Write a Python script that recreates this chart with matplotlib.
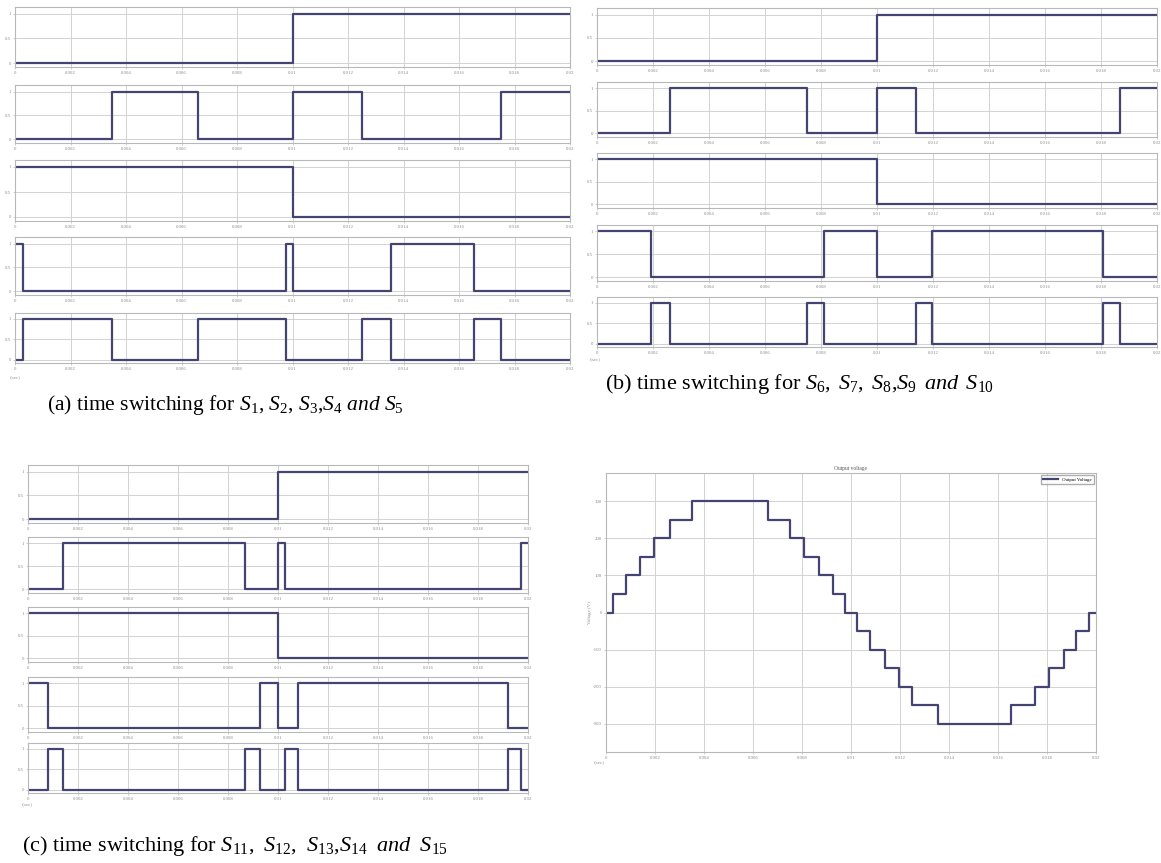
import matplotlib.pyplot as plt

plt.rcParams['font.family'] = ['Liberation Serif', 'DejaVu Serif']
plt.rcParams['mathtext.fontset'] = 'custom'
plt.rcParams['mathtext.rm'] = 'Liberation Serif'
plt.rcParams['mathtext.it'] = 'Liberation Serif:italic'

W, H = 1161, 863
T_END = 0.02

# gate signals: initial state and switching instants (s)
s1_start, s1_edges = 0, [0.01]
s2_start, s2_edges = 0, [0.0035, 0.0066, 0.01, 0.0125, 0.0175]
s3_start, s3_edges = 1, [0.01]
s4_start, s4_edges = 1, [0.0003, 0.00976, 0.01, 0.01354, 0.01654]
s5_start, s5_edges = 0, [0.0003, 0.0035, 0.0066, 0.00976, 0.0125, 0.01354, 0.01654, 0.0175]

s6_start, s6_edges = 0, [0.01]
s7_start, s7_edges = 0, [0.0026, 0.0075, 0.01, 0.0114, 0.01868]
s8_start, s8_edges = 1, [0.01]
s9_start, s9_edges = 1, [0.00194, 0.0081, 0.01, 0.01196, 0.01808]
s10_start, s10_edges = 0, [0.00194, 0.0026, 0.0075, 0.0081, 0.0114, 0.01196, 0.01808, 0.01868]

s11_start, s11_edges = 0, [0.01]
s12_start, s12_edges = 0, [0.0014, 0.0087, 0.01, 0.01026, 0.0197]
s13_start, s13_edges = 1, [0.01]
s14_start, s14_edges = 1, [0.0008, 0.00926, 0.01, 0.01078, 0.0192]
s15_start, s15_edges = 0, [0.0008, 0.0014, 0.0087, 0.00926, 0.01026, 0.01078, 0.0192, 0.0197]

# inverter output voltage: step instants (s) and level (V) after each one
vout_t = [0, 0.0003, 0.0008, 0.0014, 0.00194, 0.0026, 0.0035, 0.0066, 0.0075, 0.0081,
          0.0087, 0.00926, 0.00976, 0.01026, 0.01078, 0.0114, 0.01196, 0.0125, 0.01354,
          0.01654, 0.0175, 0.01808, 0.01868, 0.0192, 0.0197, 0.02]
vout_v = [0, 50, 100, 150, 200, 250, 300, 250, 200, 150,
          100, 50, 0, -50, -100, -150, -200, -250, -300,
          -250, -200, -150, -100, -50, 0, 0]

time_ticks = [0.002 * i for i in range(11)]
time_labels = ['0'] + ['%g' % round(0.002 * i, 3) for i in range(1, 11)]
gate_ticks = [0, 0.5, 1]
gate_labels = ['0', '0.5', '1']
volt_ticks = [-300, -200, -100, 0, 100, 200, 300]
volt_labels = ['-300', '-200', '-100', '0', '100', '200', '300']

LINE = '#444472'
GRID = '#d2d2d2'
TICK = '#8c8c8c'


def gate_wave(start, edges):
    t = [0.0] + list(edges) + [T_END]
    v = [(start + i) % 2 for i in range(len(edges) + 1)]
    v.append(v[-1])
    return t, v


def axes_px(fig, left, top, right, bottom):
    return fig.add_axes([left / W, 1 - bottom / H, (right - left) / W, (bottom - top) / H])


def scope_style(ax):
    ax.set_xlim(0, T_END)
    ax.set_xticks(time_ticks)
    ax.set_xticklabels(time_labels)
    ax.grid(True, color=GRID, lw=0.7)
    ax.set_axisbelow(True)
    ax.tick_params(labelsize=3.5, labelcolor=TICK, length=1.5, width=0.4,
                   color='#aaaaaa', pad=1.5)
    for sp in ax.spines.values():
        sp.set_color('#b8b8b8')
        sp.set_linewidth(0.8)


def gate_panel(fig, left, right, rows, signals):
    for (top, bottom), (start, edges) in zip(rows, signals):
        ax = axes_px(fig, left, top, right, bottom)
        t, v = gate_wave(start, edges)
        ax.step(t, v, where='post', color=LINE, lw=1.6)
        scope_style(ax)
        ax.set_ylim(-0.08, 1.14)
        ax.set_yticks(gate_ticks)
        ax.set_yticklabels(gate_labels)


fig = plt.figure(figsize=(W / 100, H / 100), dpi=100)

gate_panel(fig, 15, 570,
           [(7, 67), (85, 143), (160, 221), (237, 295), (313, 363)],
           [(s1_start, s1_edges), (s2_start, s2_edges), (s3_start, s3_edges),
            (s4_start, s4_edges), (s5_start, s5_edges)])
gate_panel(fig, 597, 1157,
           [(8, 65), (82, 137), (153, 208), (225, 281), (297, 347)],
           [(s6_start, s6_edges), (s7_start, s7_edges), (s8_start, s8_edges),
            (s9_start, s9_edges), (s10_start, s10_edges)])
gate_panel(fig, 28, 528,
           [(465, 523), (537, 593), (607, 662), (677, 732), (743, 793)],
           [(s11_start, s11_edges), (s12_start, s12_edges), (s13_start, s13_edges),
            (s14_start, s14_edges), (s15_start, s15_edges)])

# staircase output voltage
axv = axes_px(fig, 606, 473, 1096, 752)
axv.step(vout_t, vout_v, where='post', color=LINE, lw=1.6, label='Output Voltage')
scope_style(axv)
axv.set_ylim(-377, 377)
axv.set_yticks(volt_ticks)
axv.set_yticklabels(volt_labels)
axv.set_title('Output voltage', fontsize=4, color='#555555', pad=2)
axv.set_ylabel('Voltage (V)', fontsize=3.5, color=TICK, labelpad=1)
axv.legend(loc='upper right', fontsize=3.5, frameon=True, fancybox=False,
           edgecolor='#999999', handlelength=3, borderpad=0.4)

for x, y in [(10, 378), (590, 360), (22, 805), (594, 763)]:
    fig.text(x / W, 1 - y / H, 't(sec)', fontsize=3.5, color=TICK, ha='left', va='center')

captions = [
    (47, 405, 15.5, r'(a) time switching for $S_1$, $S_2$, $S_3$,$S_4$ $and$ $S_5$'),
    (605, 384, 16,
     r'(b) time switching for $S_6$, $\,S_7$, $\,S_8$,$S_9$ $\,and\,$ $S_{10}$'),
    (22, 846, 16,
     r'(c) time switching for $S_{11}$, $\;S_{12}$, $\;S_{13}$,$S_{14}$ $\;and\;$ $S_{15}$'),
]
for x, y, size, txt in captions:
    fig.text(x / W, 1 - y / H, txt, fontsize=size, ha='left', va='center')

fig.savefig('out.png', dpi=100)
